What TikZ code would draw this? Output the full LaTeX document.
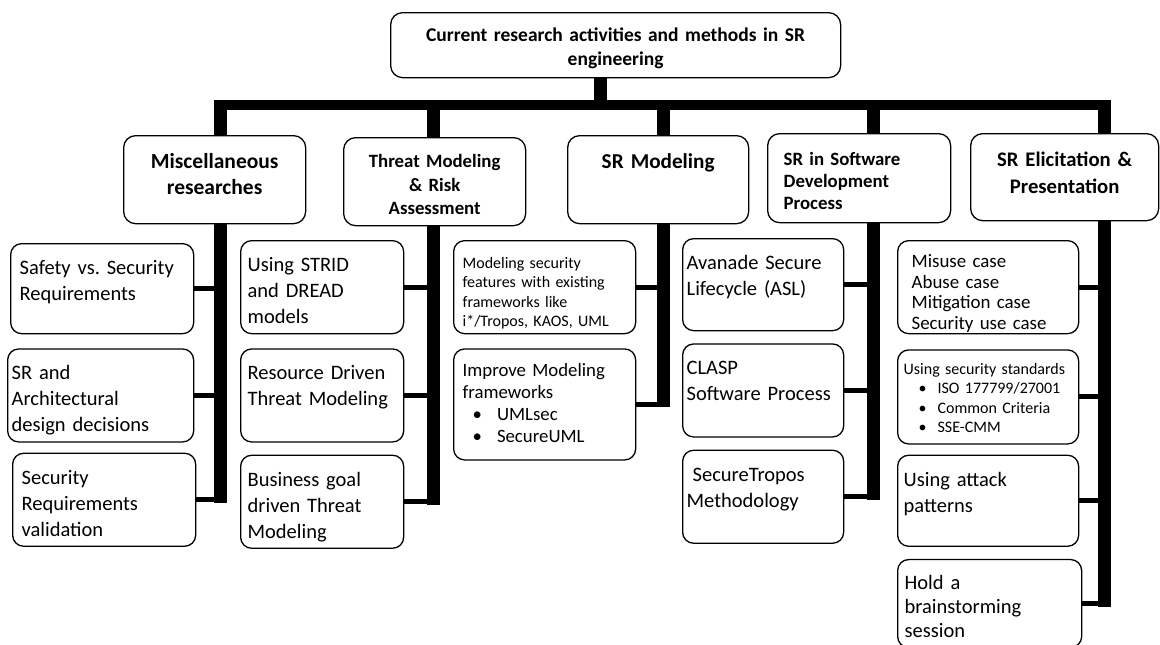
\documentclass[tikz,border=0pt]{standalone}
\usepackage{fontspec}
\setmainfont{Carlito}
\usetikzlibrary{positioning,backgrounds}

\tikzset{
  head/.style={draw, line width=1.3pt, rounded corners=12pt, fill=white, anchor=north west,
    align=center, inner xsep=6pt, inner ysep=6pt, text height=27pt,
    font=\fontsize{21.5}{26}\selectfont\bfseries},
  leaf/.style={draw, line width=1.3pt, rounded corners=11pt, fill=white, anchor=north west,
    align=left, inner xsep=9pt, inner ysep=6pt, text height=25pt,
    font=\fontsize{20.5}{26}\selectfont},
  tiny/.style={font=\fontsize{16}{19.5}\selectfont},
  crossbar/.style={line width=10pt},
  spine/.style={line width=13pt},
  twig/.style={line width=5pt}
}

\begin{document}
\frenchspacing
\begin{tikzpicture}[x=1pt, y=-1pt]
    \useasboundingbox (0,0) rectangle (1160,645);

    % top
    \node[head, text width=438pt, text height=23pt, text depth=30pt, font=\fontsize{19.5}{24}\selectfont\bfseries] (root) at (390,12)
        {Current research activities and methods in SR\\engineering};

    % second level
    \node[head, text width=170pt, text depth=49pt] (misc) at (123,135)
        {Miscellaneous\\researches};
    \node[head, text width=170pt, text height=24pt, text depth=52pt, font=\fontsize{18.8}{23.5}\selectfont\bfseries] (threat) at (343,137)
        {Threat Modeling\\\& Risk\\Assessment};
    \node[head, text width=169pt, text depth=49pt, font=\fontsize{21.2}{26}\selectfont\bfseries] (srmod) at (567,135)
        {SR Modeling};
    \node[head, text width=151pt, text height=26pt, text depth=51pt, align=left, inner xsep=16pt, font=\fontsize{18.8}{21.7}\selectfont\bfseries] (sdp) at (767,133)
        {SR in Software\\Development\\Process};
    \node[head, text width=176pt, text depth=48pt, font=\fontsize{20.7}{26.5}\selectfont\bfseries] (elic) at (970,133)
        {SR Elicitation \&\\Presentation};

    % miscellaneous
    \node[leaf, text width=165pt, text depth=53pt] (safety) at (10,243)
        {Safety vs. Security\\Requirements};
    \node[leaf, text width=178pt, inner xsep=4pt, text depth=56pt, below=14pt of safety.south west, anchor=north west, xshift=-3pt] (srarch)
        {SR and\\Architectural\\design decisions};
    \node[leaf, text width=165pt, text depth=56pt, below=10pt of srarch.south west, anchor=north west, xshift=5pt] (srval)
        {Security\\Requirements\\validation};

    % threat modeling
    \node[leaf, text width=149pt, inner xsep=7pt, text depth=56pt] (strid) at (240,240)
        {Using STRID\\and DREAD\\models};
    \node[leaf, text width=149pt, inner xsep=7pt, text depth=56pt, below=14pt of strid.south west, anchor=north west] (resource)
        {Resource Driven\\Threat Modeling};
    \node[leaf, text width=149pt, inner xsep=7pt, text depth=56pt, below=12pt of resource.south west, anchor=north west] (busgoal)
        {Business goal\\driven Threat\\Modeling};

    % SR modeling
    \node[leaf, tiny, text width=164pt, text height=21.5pt, text depth=59.5pt] (modfeat) at (453,240)
        {Modeling security\\features with existing\\frameworks like\\i*/Tropos, KAOS, UML};
    \node[leaf, text width=164pt, text height=22pt, text depth=77pt, font=\fontsize{18.8}{22}\selectfont, below=14pt of modfeat.south west, anchor=north west] (improve)
        {Improve Modeling\\frameworks\\
         \hspace*{10pt}\textbullet\hspace{15pt}UMLsec\\
         \hspace*{10pt}\textbullet\hspace{15pt}SecureUML};

    % development process
    \node[leaf, text width=153pt, inner xsep=4pt, text depth=55pt] (asl) at (682,238)
        {Avanade Secure\\Lifecycle (ASL)};
    \node[leaf, text width=153pt, inner xsep=4pt, text depth=56pt, below=12pt of asl.south west, anchor=north west] (clasp)
        {CLASP\\Software Process};
    \node[leaf, text width=153pt, inner xsep=4pt, text depth=56pt, below=12pt of clasp.south west, anchor=north west] (tropos)
        {\hspace*{6pt}SecureTropos\\Methodology};

    % elicitation
    \node[leaf, text width=153pt, inner xsep=14pt, text height=21pt, text depth=60pt, font=\fontsize{18.9}{20.5}\selectfont] (cases) at (897,240)
        {Misuse case\\Abuse case\\Mitigation case\\Security use case};
    \node[leaf, tiny, text width=169pt, inner xsep=6pt, text height=18.5pt, text depth=63.5pt, below=15pt of cases.south west, anchor=north west] (standards)
        {Using security standards\\
         \hspace*{15pt}\textbullet\hspace{11pt}ISO 177799/27001\\
         \hspace*{15pt}\textbullet\hspace{11pt}Common Criteria\\
         \hspace*{15pt}\textbullet\hspace{11pt}SSE-CMM};
    \node[leaf, text width=169pt, inner xsep=6pt, text depth=54pt, below=10pt of standards.south west, anchor=north west] (attack)
        {Using attack\\patterns};
    \node[leaf, text width=170pt, inner xsep=7pt, text height=24pt, text depth=52pt, font=\fontsize{20.5}{24}\selectfont, below=12pt of attack.south west, anchor=north west] (brain)
        {Hold a\\brainstorming\\session};

    % trunk and branches
    \coordinate (rootstem) at (600,105);
    \coordinate (miscspine) at (220,105);
    \coordinate (threatspine) at (433,105);
    \coordinate (modspine) at (663,105);
    \coordinate (sdpspine) at (873,105);
    \coordinate (elicspine) at (1104,105);

    \begin{pgfonlayer}{background}
    \draw[spine] (root.south -| rootstem) -- (rootstem);
    \draw[crossbar] ([xshift=-6.5pt]miscspine) -- ([xshift=6.5pt]elicspine);

    \draw[spine] ([yshift=5pt]miscspine) -- ([yshift=-3pt]srval.east -| miscspine);
    \draw[spine] ([yshift=5pt]threatspine) -- ([yshift=-3pt]busgoal.east -| threatspine);
    \draw[spine] ([yshift=5pt]modspine) -- ([yshift=-3pt]improve.east -| modspine);
    \draw[spine] ([yshift=5pt]sdpspine) -- ([yshift=-3pt]tropos.east -| sdpspine);
    \draw[spine] ([yshift=5pt]elicspine) -- ([yshift=-3pt]brain.east -| elicspine);

    \draw[twig] (safety.east) -- (safety.east -| miscspine);
    \draw[twig] (srarch.east) -- (srarch.east -| miscspine);
    \draw[twig] (srval.east) -- (srval.east -| miscspine);
    \draw[twig] (strid.east) -- (strid.east -| threatspine);
    \draw[twig] (resource.east) -- (resource.east -| threatspine);
    \draw[twig] (busgoal.east) -- (busgoal.east -| threatspine);
    \draw[twig] (modfeat.east) -- (modfeat.east -| modspine);
    \draw[twig] (improve.east) -- (improve.east -| modspine);
    \draw[twig] (asl.east) -- (asl.east -| sdpspine);
    \draw[twig] (clasp.east) -- (clasp.east -| sdpspine);
    \draw[twig] (tropos.east) -- (tropos.east -| sdpspine);
    \draw[twig] (cases.east) -- (cases.east -| elicspine);
    \draw[twig] (standards.east) -- (standards.east -| elicspine);
    \draw[twig] (attack.east) -- (attack.east -| elicspine);
    \draw[twig] (brain.east) -- (brain.east -| elicspine);
    \end{pgfonlayer}

\end{tikzpicture}
\end{document}
